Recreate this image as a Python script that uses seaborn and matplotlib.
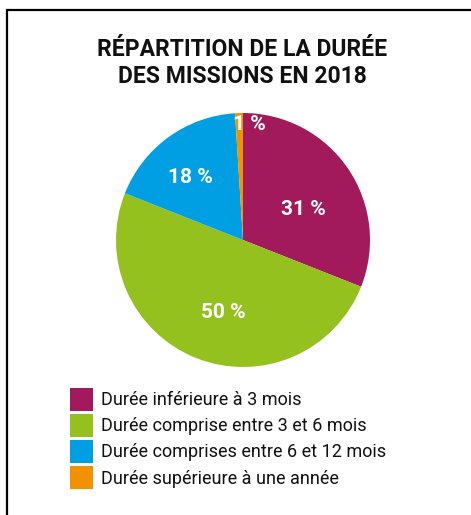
import matplotlib
matplotlib.use("Agg")
import matplotlib.pyplot as plt
import seaborn as sns
from matplotlib.patches import Patch, Rectangle

# --- data ---
categories = [
    "Durée inférieure à 3 mois",
    "Durée comprise entre 3 et 6 mois",
    "Durée comprises entre 6 et 12 mois",
    "Durée supérieure à une année",
]
shares = [31, 50, 18, 1]
pct_labels = ["31 %", "50 %", "18 %", "1 %"]
title = "RÉPARTITION DE LA DURÉE\nDES MISSIONS EN 2018"

# --- style ---
colors = sns.color_palette(["#A21A5B", "#95C11F", "#009FE3", "#F39200"])
# label positions (axes fraction) inside each slice
label_xy = [(0.736, 0.620), (0.421, 0.214), (0.291, 0.748), (0.526, 0.954)]

sns.set_theme(style="white")
plt.rcParams["font.family"] = ["Roboto", "DejaVu Sans"]

W, H = 471, 515
fig = plt.figure(figsize=(W / 100, H / 100), dpi=100)

# frame around the card (only left/top visible in the crop)
fig.add_artist(Rectangle((7 / W, -0.05), 1.2, (H - 10) / H + 0.05,
                         transform=fig.transFigure, fill=False,
                         edgecolor="black", linewidth=1.6))

fig.text(242 / W, 1 - 63 / H, title, ha="center", va="center",
         fontsize=16.5, fontweight="bold", color="#111111", linespacing=1.2)

cx, cy, r = 243, 240, 127
ax = fig.add_axes([(cx - r) / W, (H - cy - r) / H, 2 * r / W, 2 * r / H])
wedges, _ = ax.pie(shares, colors=colors, startangle=90, counterclock=False,
                   wedgeprops=dict(linewidth=0))
ax.set_aspect("equal")
ax.set_xlim(-1, 1)
ax.set_ylim(-1, 1)
ax.axis("off")

for lab, (lx, ly) in zip(pct_labels, label_xy):
    ax.text(lx, ly, lab, transform=ax.transAxes, ha="center", va="center",
            color="white", fontsize=15, fontweight="bold")

handles = [Patch(facecolor=c, edgecolor="none") for c in colors]
fig.legend(handles, categories, loc="upper left",
           bbox_to_anchor=(70 / W, 1 - 388 / H), frameon=False,
           fontsize=13, handlelength=1.27, handleheight=1.58,
           handletextpad=0.45, labelspacing=0.17, borderpad=0,
           borderaxespad=0, labelcolor="#111111")

fig.savefig("out.png", dpi=100)
